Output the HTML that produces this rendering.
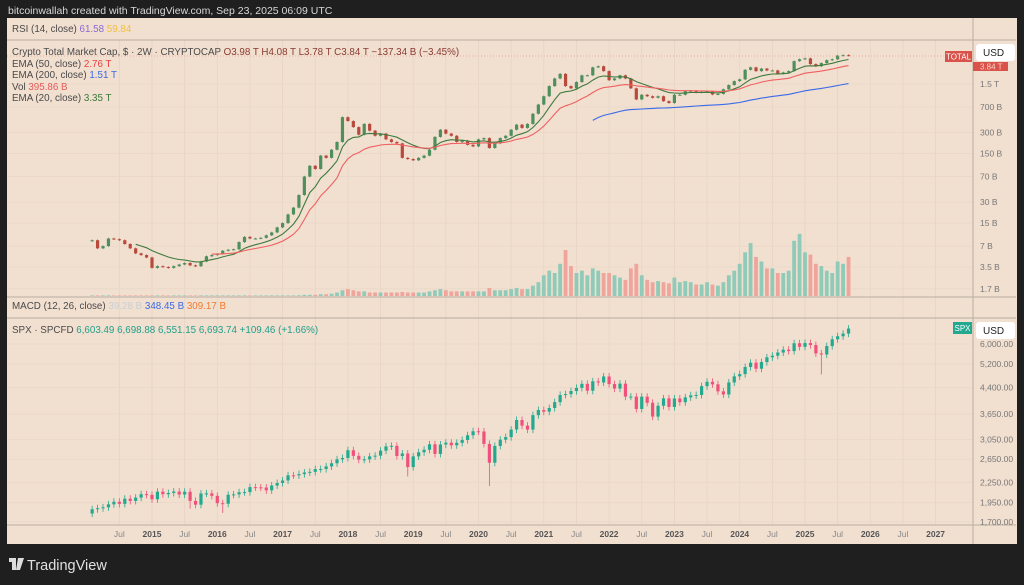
<!DOCTYPE html>
<html><head><meta charset="utf-8"><style>
html,body{margin:0;padding:0;background:#1f1f1f;width:1024px;height:585px;overflow:hidden}
svg{display:block;font-family:"Liberation Sans",Arial,sans-serif}
</style></head><body>
<svg id="c" width="1024" height="585" viewBox="0 0 1024 585">
<rect x="0" y="0" width="1024" height="585" fill="#1f1f1f"/>
<text x="8" y="14" font-size="10.5" fill="#d8d8d8">bitcoinwallah created with TradingView.com, Sep 23, 2025 06:09 UTC</text>
<rect x="7" y="18" width="1010" height="526" fill="#f1dfd0"/>
<g id="grid"></g>
<g id="vol"></g>
<g id="crypto"></g>
<g id="ema"></g>
<g id="spx"></g>
<line x1="7" y1="40" x2="1016" y2="40" stroke="#b8aca2" stroke-width="1"/>
<line x1="7" y1="297" x2="1016" y2="297" stroke="#b8aca2" stroke-width="1"/>
<line x1="7" y1="318" x2="1016" y2="318" stroke="#b8aca2" stroke-width="1"/>
<line x1="7" y1="525" x2="1016" y2="525" stroke="#b8aca2" stroke-width="1"/>
<line x1="973" y1="18" x2="973" y2="544" stroke="#b8aca2" stroke-width="1"/>
<line x1="7" y1="56" x2="973" y2="56" stroke="#e8a090" stroke-width="0.8" stroke-dasharray="1,2"/>
<g font-size="9.8" fill="#4a4a4a">
<text x="12" y="32">RSI (14, close) <tspan fill="#8a6ad0">61.58</tspan> <tspan fill="#f0c040">59.84</tspan></text>
<text x="12" y="55">Crypto Total Market Cap, $ · 2W · CRYPTOCAP  <tspan fill="#8a3a30">O3.98 T  H4.08 T  L3.78 T  C3.84 T  −137.34 B (−3.45%)</tspan></text>
<text x="12" y="67">EMA (50, close) <tspan fill="#e84040">2.76 T</tspan></text>
<text x="12" y="78">EMA (200, close) <tspan fill="#3a6ae8">1.51 T</tspan></text>
<text x="12" y="90">Vol <tspan fill="#e85a5a">395.86 B</tspan></text>
<text x="12" y="101">EMA (20, close) <tspan fill="#3a7a3a">3.35 T</tspan></text>
<text x="12" y="309">MACD (12, 26, close) <tspan fill="#c8d0d4">39.28 B</tspan> <tspan fill="#3a6ae8">348.45 B</tspan> <tspan fill="#f07a30">309.17 B</tspan></text>
<text x="12" y="333">SPX · SPCFD  <tspan fill="#20a08a">6,603.49  6,698.88  6,551.15  6,693.74  +109.46 (+1.66%)</tspan></text>
</g>
<g id="axes" font-size="9" fill="#666"></g>
<rect x="945" y="51" width="27" height="11" fill="#d9534a"/>
<text x="958.5" y="59.5" font-size="8" fill="#fff" text-anchor="middle">TOTAL</text>
<rect x="973" y="62" width="35" height="9" fill="#d9534a"/>
<text x="980" y="69.5" font-size="8" fill="#f8d0c8">3.84 T</text>
<rect x="976" y="44" width="39" height="17" rx="3" fill="#fff"/>
<text x="983" y="56" font-size="10" fill="#222">USD</text>
<rect x="953" y="322" width="19" height="12" fill="#22a98f"/>
<text x="962.5" y="331" font-size="8" fill="#fff" text-anchor="middle">SPX</text>
<rect x="976" y="322" width="39" height="17" rx="3" fill="#fff"/>
<text x="983" y="334" font-size="10" fill="#222">USD</text>
<rect x="9" y="558" width="7" height="4" fill="#ddd"/>
<rect x="12" y="558" width="4" height="12" fill="#ddd"/>
<polygon points="18,558 24,558 20,570 16,570" fill="#ddd"/>
<text x="27" y="570" font-size="14.5" fill="#e0e0e0">TradingView</text>
</svg>
<script>
// ---- data (monthly, starting Feb 2014) ----
const cryptoClose = [
 8.5,6.5,7,9,8.8,8.5,7.5,6.5,5.5,5.2,4.8,
 3.4,3.6,3.5,3.4,3.6,3.8,4.0,3.7,3.6,4.2,5,5.2,
 5.4,6,6.2,6.3,8,9.5,9,9,9.2,10,11,13,
 15,20,25,38,70,100,90,140,130,170,220,500,
 440,360,280,400,320,270,290,240,220,210,130,125,
 120,130,140,170,260,330,290,270,220,230,200,190,
 240,250,180,210,250,270,330,390,350,400,560,760,
 1000,1400,1800,2100,1400,1300,1600,2000,2000,2600,2700,2300,
 1700,1800,2000,1800,1300,900,1050,1000,950,1000,850,800,
 1050,1050,1180,1200,1130,1150,1170,1060,1080,1260,1450,1650,
 1750,2400,2600,2300,2500,2350,2350,2100,2200,2300,3200,3400,
 3500,2900,2700,3000,3300,3400,3850,3900,3840];
const cryptoVol = [
 0.5,0.5,0.5,0.5,0.5,0.5,0.5,0.5,0.5,0.5,0.5,
 0.5,0.5,0.5,0.5,0.5,0.5,0.5,0.5,0.5,0.5,0.5,0.5,
 0.5,0.5,0.5,0.5,0.5,0.5,0.5,0.5,0.5,0.5,0.5,0.5,
 0.5,0.5,0.5,0.6,1,1,1,1.5,1.5,2,3,5,
 6,5,4,4,3,3,3,3,3,3,3.5,3,
 3,3,3,4,5,6,5,4,4,4,4,4,
 4,4,7,5,5,5,6,7,6,6,9,12,
 18,22,20,28,40,26,20,22,18,24,22,20,
 20,18,16,14,24,28,18,14,12,13,12,11,
 16,12,13,12,10,10,12,10,9,12,18,22,
 28,38,46,34,30,24,24,20,20,22,48,54,
 38,36,28,26,22,20,30,28,34];
const spxClose = [
 1859,1872,1884,1924,1960,1931,2003,1972,2018,2068,2059,
 1995,2105,2068,2086,2107,2063,2104,1972,1920,2079,2080,2044,
 1940,1932,2060,2065,2097,2099,2174,2171,2168,2126,2199,2239,
 2279,2364,2363,2384,2412,2423,2470,2472,2519,2575,2648,2674,
 2824,2714,2641,2648,2705,2718,2816,2902,2914,2711,2760,2507,
 2704,2784,2834,2946,2752,2942,2980,2926,2977,3038,3141,3231,
 3226,2954,2585,2912,3044,3100,3271,3500,3363,3270,3622,3756,
 3714,3811,3973,4181,4204,4298,4395,4523,4308,4605,4567,4766,
 4516,4374,4530,4132,4132,3785,4130,3955,3586,3872,4080,3840,
 4077,3970,4109,4169,4180,4450,4589,4508,4288,4194,4568,4770,
 4846,5096,5254,5036,5278,5460,5522,5648,5762,5705,6032,5882,
 6041,5955,5612,5569,5912,6205,6339,6460,6694];
// notable intramonth lows (month index, low value)
const spxLowIdx = [18,24,58,73,103,104,134];
const spxLowVal = [1867,1810,2346,2191,3584,3491,4835];
const startYear = 2014 + 1/12;
const years = [2015,2016,2017,2018,2019,2020,2021,2022,2023,2024,2025,2026,2027];
const cryptoTicks = [1500,700,300,150,70,30,15,7,3.5,1.7];
const cryptoTickLabels = ["1.5 T","700 B","300 B","150 B","70 B","30 B","15 B","7 B","3.5 B","1.7 B"];
const spxTicks = [6000,5200,4400,3650,3050,2650,2250,1950,1700];
const spxTickLabels = ["6,000.00","5,200.00","4,400.00","3,650.00","3,050.00","2,650.00","2,250.00","1,950.00","1,700.00"];

// ---- scales ----
const NS="http://www.w3.org/2000/svg";
const xT = t => 152 + (t-2015)*65.3;
const xI = i => xT(startYear + i/12);
const yC = v => 84 - 30.2*Math.log(v/1500);
const yS = v => 344 - 141*Math.log(v/6000);
const yV = v => 296 - v*1.15;
function mk(tag, attrs, parent){const e=document.createElementNS(NS,tag);for(const k in attrs)e.setAttribute(k,attrs[k]);parent.appendChild(e);return e;}

const grid=document.getElementById('grid'), axes=document.getElementById('axes');
years.forEach(y=>{
  [y-0.5, y].forEach((t,j)=>{
    const x=xT(t);
    const g=mk('line',{x1:x,y1:40,x2:x,y2:525,stroke:'#e8d4c4','stroke-width':0.8},grid);
    
    
    const tx=mk('text',{x:x,y:537,'text-anchor':'middle','font-size':8.5,fill:j?'#555':'#888','font-weight':j?'bold':'normal'},axes);
    tx.textContent=j?String(y):'Jul';
    
    
  });
});
cryptoTicks.forEach((v,i)=>{
  const y=yC(v);
  const g=mk('line',{x1:7,y1:y,x2:973,y2:y,stroke:'#ead7c8','stroke-width':0.8},grid);
  
  
  const t=mk('text',{x:980,y:y+3,'font-size':8.5,fill:'#777'},axes);
  t.textContent=cryptoTickLabels[i];
  
  
});
spxTicks.forEach((v,i)=>{
  const y=yS(v);
  const g=mk('line',{x1:7,y1:y,x2:973,y2:y,stroke:'#ead7c8','stroke-width':0.8},grid);
  
  
  const t=mk('text',{x:980,y:y+3,'font-size':8.5,fill:'#777'},axes);
  t.textContent=spxTickLabels[i];
  
  
});

function candles(arr, yf, parent, up, down, name, lowIdx, lowVal){
  arr.forEach((c,i)=>{
    const o = i? arr[i-1] : c*0.97;
    let hi=Math.max(o,c)*1.025, lo=Math.min(o,c)*0.975;
    const k = lowIdx ? lowIdx.indexOf(i) : -1;
    if(k>=0) lo=Math.min(lo,lowVal[k]);
    const x=xI(i), col=c>=o?up:down;
    const w=mk('line',{x1:x,y1:yf(hi),x2:x,y2:yf(lo),stroke:col,'stroke-width':0.8},parent);
    
    
    const y1=yf(Math.max(o,c)), y2=yf(Math.min(o,c));
    const b=mk('rect',{x:x-1.6,y:y1,width:3.2,height:Math.max(1,y2-y1),fill:col},parent);
    
    
  });
}
const vg=document.getElementById('vol');
cryptoVol.forEach((v,i)=>{
  const o=i?cryptoClose[i-1]:cryptoClose[0];
  const col=cryptoClose[i]>=o?'#8fcbb8':'#f0a59c';
  const y=yV(v);
  const r=mk('rect',{x:xI(i)-1.9,y:y,width:3.8,height:296-y,fill:col},vg);
  
  
});
candles(cryptoClose,yC,document.getElementById('crypto'),'#4f8f5c','#b84a3c','crypto');
candles(spxClose,yS,document.getElementById('spx'),'#22a98f','#f0507a','spx',spxLowIdx,spxLowVal);

function ema(arr,p){const a=2/(p+1);let e=arr[0];return arr.map(v=>(e=a*v+(1-a)*e));}
const eg=document.getElementById('ema');
function line(vals,from,col,name){
  const d=vals.map((v,i)=>i>=from?(i===from?'M':'L')+xI(i).toFixed(1)+','+yC(v).toFixed(1):'').join('');
  const p=mk('path',{d:d,fill:'none',stroke:col,'stroke-width':1.1},eg);
  
  
}
line(ema(cryptoClose,10),8,'#3e7a3e','ema20-line');
line(ema(cryptoClose,25),22,'#f06060','ema50-line');
line(ema(cryptoClose,100),92,'#3a6ae8','ema200-line');
</script>
</body></html>
